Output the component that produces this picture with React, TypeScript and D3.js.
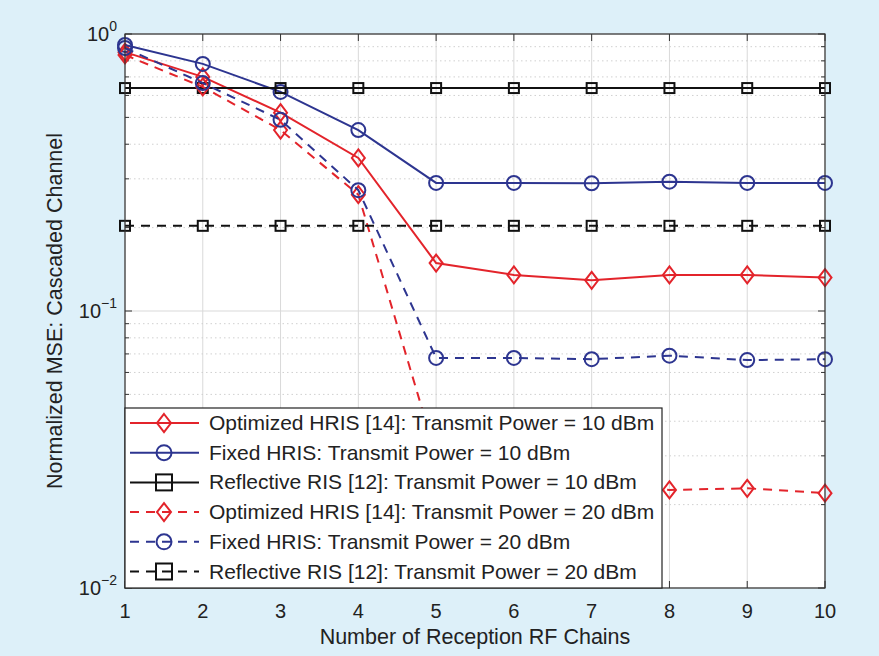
import React from "react";
import * as d3 from "d3";

const xValues = [1, 2, 3, 4, 5, 6, 7, 8, 9, 10];
const optimized10 = [0.86, 0.70, 0.52, 0.357, 0.149, 0.135, 0.129, 0.135, 0.135, 0.132];
const fixed10 = [0.913, 0.78, 0.618, 0.45, 0.29, 0.29, 0.289, 0.293, 0.29, 0.29];
const reflective10 = [0.638, 0.638, 0.638, 0.638, 0.638, 0.638, 0.638, 0.638, 0.638, 0.638];
const optimized20 = [0.84, 0.644, 0.45, 0.263, 0.03, 0.023, 0.023, 0.0226, 0.0229, 0.022];
const fixed20 = [0.89, 0.665, 0.49, 0.273, 0.0677, 0.0677, 0.067, 0.069, 0.0665, 0.067];
const reflective20 = [0.203, 0.203, 0.203, 0.203, 0.203, 0.203, 0.203, 0.203, 0.203, 0.203];
const seriesLabels = [
  "Optimized HRIS [14]: Transmit Power = 10 dBm",
  "Fixed HRIS: Transmit Power = 10 dBm",
  "Reflective RIS [12]: Transmit Power = 10 dBm",
  "Optimized HRIS [14]: Transmit Power = 20 dBm",
  "Fixed HRIS: Transmit Power = 20 dBm",
  "Reflective RIS [12]: Transmit Power = 20 dBm",
];
const yTickExps = ["0", "−1", "−2"];
const xTitle = "Number of Reception RF Chains";
const yTitle = "Normalized MSE: Cascaded Channel";

const RED = "#e3242b";
const BLUE = "#2d3590";
const BLACK = "#111111";
const BG = "#ddf0f9";
const FONT = "'Liberation Sans', Arial, sans-serif";

const W = 879, H = 656;
const M = { left: 125, right: 825, top: 34, bottom: 588 };

type Marker = "diamond" | "circle" | "square";
const series = [
  { values: optimized10, color: RED, dashed: false, marker: "diamond" as Marker },
  { values: fixed10, color: BLUE, dashed: false, marker: "circle" as Marker },
  { values: reflective10, color: BLACK, dashed: false, marker: "square" as Marker },
  { values: optimized20, color: RED, dashed: true, marker: "diamond" as Marker },
  { values: fixed20, color: BLUE, dashed: true, marker: "circle" as Marker },
  { values: reflective20, color: BLACK, dashed: true, marker: "square" as Marker },
];

function MarkerShape({ type, x, y, color, big }: { type: Marker; x: number; y: number; color: string; big?: boolean }) {
  const sw = 2;
  if (type === "diamond") {
    const w = big ? 7 : 6.5, h = big ? 9 : 8.5;
    return <path d={`M${x},${y - h}L${x + w},${y}L${x},${y + h}L${x - w},${y}Z`} fill="none" stroke={color} strokeWidth={sw} />;
  }
  if (type === "circle") {
    return <circle cx={x} cy={y} r={big ? 7.5 : 7} fill="none" stroke={color} strokeWidth={sw} />;
  }
  const s = big ? 8 : 5;
  return <rect x={x - s} y={y - s} width={2 * s} height={2 * s} fill="none" stroke={color} strokeWidth={sw} />;
}

export default function App() {
  const x = d3.scaleLinear().domain([1, 10]).range([M.left, M.right]);
  const y = d3.scaleLog().domain([0.01, 1]).range([M.bottom, M.top]);
  const line = d3.line<number>().x((_, i) => x(xValues[i])).y((d) => y(d));

  const minor: number[] = [];
  [0.01, 0.1].forEach((dec) => {
    for (let k = 2; k <= 9; k++) minor.push(dec * k);
  });
  const majors = [1, 0.1, 0.01];

  const legend = { x: 125, y: 408, w: 537, h: 180, row: 29.7 };

  return (
    <svg width={W} height={H} style={{ position: "absolute", left: 0, top: 0 }} fontFamily={FONT}>
      <rect x={0} y={0} width={W} height={H} fill={BG} />
      <rect x={M.left} y={M.top} width={M.right - M.left} height={M.bottom - M.top} fill="#ffffff" />
      {/* grid */}
      {xValues.map((v) => (
        <line key={"gx" + v} x1={x(v)} x2={x(v)} y1={M.top} y2={M.bottom} stroke="#d9d9d9" strokeWidth={1} />
      ))}
      {majors.map((v) => (
        <line key={"gy" + v} x1={M.left} x2={M.right} y1={y(v)} y2={y(v)} stroke="#d9d9d9" strokeWidth={1} />
      ))}
      {minor.map((v) => (
        <line key={"gm" + v} x1={M.left} x2={M.right} y1={y(v)} y2={y(v)} stroke="#d0d0d0" strokeWidth={1} strokeDasharray="1.5,3" />
      ))}
      {/* ticks */}
      {xValues.map((v) => (
        <g key={"tx" + v}>
          <line x1={x(v)} x2={x(v)} y1={M.bottom} y2={M.bottom - 7} stroke="#333" />
          <line x1={x(v)} x2={x(v)} y1={M.top} y2={M.top + 7} stroke="#333" />
        </g>
      ))}
      {majors.concat(minor).map((v) => (
        <g key={"ty" + v}>
          <line x1={M.left} x2={M.left + (majors.includes(v) ? 7 : 4)} y1={y(v)} y2={y(v)} stroke="#333" />
          <line x1={M.right} x2={M.right - (majors.includes(v) ? 7 : 4)} y1={y(v)} y2={y(v)} stroke="#333" />
        </g>
      ))}
      {/* series */}
      {series.map((s, si) => (
        <g key={"s" + si}>
          <path d={line(s.values) || ""} fill="none" stroke={s.color} strokeWidth={2} strokeDasharray={s.dashed ? "9,7" : undefined} />
          {s.values.map((v, i) => (
            <MarkerShape key={i} type={s.marker} x={x(xValues[i])} y={y(v)} color={s.color} />
          ))}
        </g>
      ))}
      {/* axes box */}
      <rect x={M.left} y={M.top} width={M.right - M.left} height={M.bottom - M.top} fill="none" stroke="#333" strokeWidth={1.2} />
      {/* tick labels */}
      {xValues.map((v) => (
        <text key={"lx" + v} x={x(v)} y={618} textAnchor="middle" fontSize={20} fill="#222">{v}</text>
      ))}
      {majors.map((v, i) => (
        <text key={"ly" + v} x={M.left - 8} y={y(v) + 7} textAnchor="end" fontSize={20} fill="#222">
          10<tspan dy={-10} fontSize={14}>{yTickExps[i]}</tspan>
        </text>
      ))}
      <text x={(M.left + M.right) / 2} y={644} textAnchor="middle" fontSize={21.5} fill="#222">{xTitle}</text>
      <text transform={`translate(62,${(M.top + M.bottom) / 2}) rotate(-90)`} textAnchor="middle" fontSize={21.5} fill="#222">{yTitle}</text>
      {/* legend */}
      <rect x={legend.x} y={legend.y} width={legend.w} height={legend.h} fill="#ffffff" stroke="#222" strokeWidth={1.2} />
      {series.map((s, i) => {
        const cy = legend.y + 15 + i * legend.row;
        return (
          <g key={"lg" + i}>
            <line x1={legend.x + 5} x2={legend.x + 74} y1={cy} y2={cy} stroke={s.color} strokeWidth={2} strokeDasharray={s.dashed ? "9,7" : undefined} />
            <MarkerShape type={s.marker} x={legend.x + 39} y={cy} color={s.color} big />
            <text x={legend.x + 84} y={cy + 7} fontSize={21} fill="#222">{seriesLabels[i]}</text>
          </g>
        );
      })}
    </svg>
  );
}
